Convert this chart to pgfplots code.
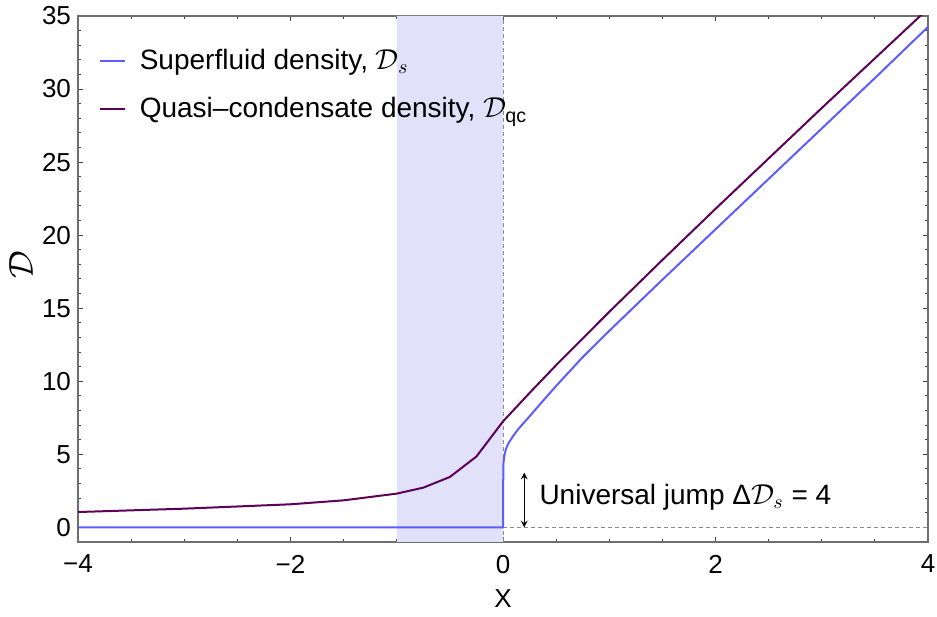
\documentclass[border=0pt]{standalone}
\usepackage{fontspec}
\setmainfont{Liberation Sans}
\usepackage{amsmath}
\usepackage{pgfplots}
\pgfplotsset{compat=1.18}
\definecolor{sfblue}{RGB}{92,92,255}
\definecolor{qcpurple}{RGB}{92,0,88}
\definecolor{shadecol}{RGB}{225,225,250}
\definecolor{framecol}{RGB}{110,110,110}
\begin{document}
\begin{tikzpicture}
\begin{axis}[
  scale only axis, width=425pt, height=263pt,
  xmin=-4, xmax=4, ymin=-1, ymax=35,
  xtick={-4,-2,0,2,4}, xticklabels={−4,−2,0,2,4},
  ytick={0,5,10,15,20,25,30,35}, yticklabels={0,5,10,15,20,25,30,35},
  minor x tick num=3, minor y tick num=4,
  tick align=inside, major tick length=2.5pt, minor tick length=1.5pt,
  axis line style={draw=framecol, line width=0.6pt},
  every tick/.style={black!75, line width=0.5pt},
  ticklabel style={font=\fontsize{13}{15}\selectfont},
  xticklabel style={yshift=-3pt},
  xlabel={X}, ylabel={$\mathcal{D}$},
  label style={font=\fontsize{13}{15}\selectfont},
  xlabel style={at={(axis description cs:0.5,-0.108)}, anchor=center},
  ylabel style={at={(axis description cs:-0.067,0.527)}, anchor=center, font=\fontsize{16}{18}\selectfont},
  legend cell align=left,
  legend image code/.code={\draw[#1] (0pt,0pt) -- (12.5pt,0pt);},
  legend style={draw=none, fill=none, at={(axis description cs:0.024,0.945)}, anchor=north west,
    font=\fontsize{14}{16}\selectfont, row sep=8.5pt, inner sep=0pt,
    nodes={inner xsep=7pt}},
]
\addplot[fill=shadecol, draw=none, forget plot] coordinates {(-1,-1) (0,-1) (0,35) (-1,35)} \closedcycle;
\addplot[framecol!80, dashed, dash pattern=on 2pt off 1.5pt, line width=0.4pt, forget plot] coordinates {(0,-1) (0,35)};
\addplot[framecol!80, dashed, dash pattern=on 2pt off 1.5pt, line width=0.4pt, forget plot] coordinates {(0,0) (4,0)};
\addplot[sfblue, line width=1pt] coordinates {
  (-4,0) (0,0) (0.003,4.25) (0.01,4.8) (0.025,5.3) (0.05,5.75) (0.1,6.3) (0.15,6.78) (0.25,7.6)
  (0.375,8.65) (0.5,9.68) (0.75,11.65) (1,13.45) (1.5,16.95) (2,20.4) (2.5,23.85)
  (3,27.3) (3.5,30.75) (4,34.25)};
\addlegendentry{Superfluid density, $\mathcal{D}_s$}
\addplot[qcpurple, line width=1pt] coordinates {
  (-4,1.05) (-3,1.28) (-2,1.58) (-1.5,1.85) (-1,2.31) (-0.75,2.72) (-0.5,3.45)
  (-0.25,4.85) (0,7.25) (0.25,9.2) (0.5,11.1) (1,14.75) (1.5,18.3) (2,21.8)
  (3,28.7) (4,35.5)};
\addlegendentry{Quasi–condensate density, $\mathcal{D}_{\text{qc}}$}
\draw[<->, >=stealth, line width=0.5pt] (axis cs:0.2,0) -- (axis cs:0.2,3.75);
\node[anchor=west, font=\fontsize{14}{16}\selectfont, inner sep=0pt] at (axis cs:0.34,2.05) {Universal jump Δ$\mathcal{D}_s$ = 4};
\end{axis}
\pgfresetboundingbox
\path[use as bounding box] ([shift={(-39pt,-37.5pt)}]current axis.south west) rectangle ([shift={(4.5pt,8pt)}]current axis.north east);
\end{tikzpicture}
\end{document}
